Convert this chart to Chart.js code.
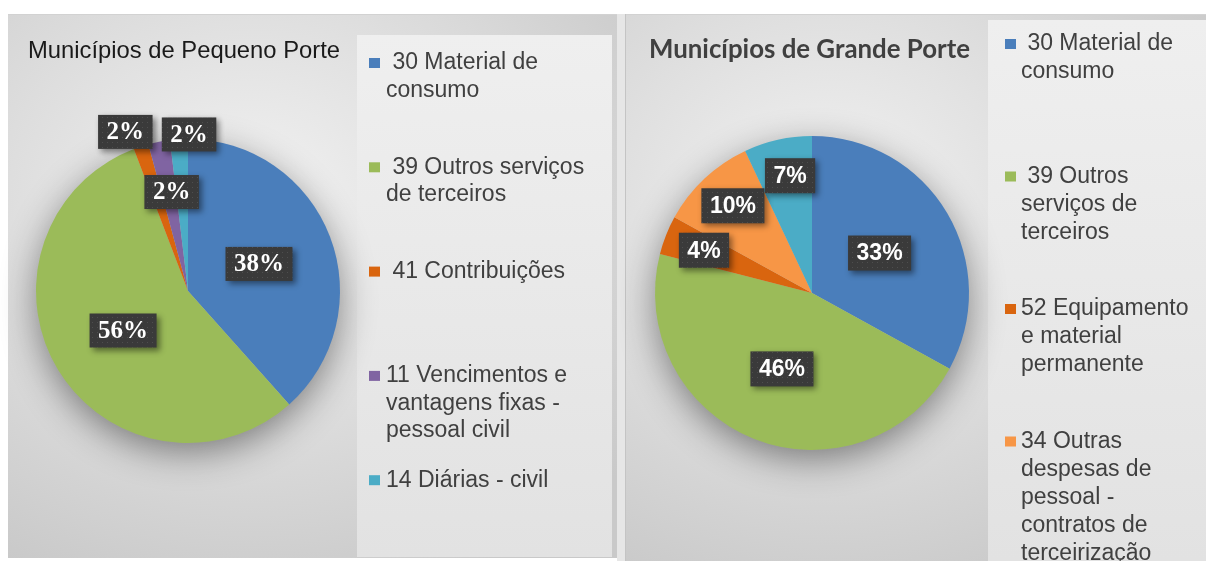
<!DOCTYPE html>
<html>
<head>
<meta charset="utf-8">
<script src="https://cdn.jsdelivr.net/npm/chart.js@4.4.1/dist/chart.umd.min.js"></script>
<style>
  html, body { margin: 0; padding: 0; background: #fff; }
  body { width: 1206px; height: 561px; position: relative; overflow: hidden; }
  .panel { position: absolute; top: 14px; border-top: 1px solid #d2d2d2; box-sizing: border-box; }
  #panel1 { left: 8px; width: 609px; height: 544px;
    background: radial-gradient(ellipse 80% 75% at 40% 35%, #f2f2f2 0%, #e0e0e0 45%, #c9c9c9 100%); }
  #legend1 { position: absolute; left: 357px; top: 35px; width: 255px; height: 522px;
    background: linear-gradient(to bottom, #efefef, #e8e8e8 55%, #e2e2e2); }
  #gap { position: absolute; left: 617px; top: 14px; width: 9px; height: 547px; background: #e6e6e6;
    border-right: 1px solid #c4c4c4; box-sizing: border-box; }
  #panel2 { left: 626px; width: 580px; height: 547px;
    background: radial-gradient(ellipse 80% 75% at 35% 35%, #f2f2f2 0%, #e0e0e0 45%, #c9c9c9 100%); }
  #legend2 { position: absolute; left: 988px; top: 20px; width: 218px; height: 541px;
    background: linear-gradient(to bottom, #efefef, #e8e8e8 55%, #e2e2e2); }
  canvas { position: absolute; top: 0; }
  #c1 { left: 0; }
  #c2 { left: 620px; }
</style>
</head>
<body>
<div class="panel" id="panel1"></div>
<div id="legend1"></div>
<div id="gap"></div>
<div class="panel" id="panel2"></div>
<div id="legend2"></div>
<canvas id="c1" width="620" height="561"></canvas>
<canvas id="c2" width="586" height="561"></canvas>
<script>
// --- data ---
const titlePequeno = 'Municípios de Pequeno Porte';
const catsPequeno = [
  [' 30 Material de', 'consumo'],
  [' 39 Outros serviços', 'de terceiros'],
  [' 41 Contribuições'],
  ['11 Vencimentos e', 'vantagens fixas -', 'pessoal civil'],
  ['14 Diárias - civil']
];
const valsPequeno = [38.4, 55.8, 1.6, 2.3, 1.9];

const titleGrande = 'Municípios de Grande Porte';
const catsGrande = [
  [' 30 Material de', 'consumo'],
  [' 39 Outros', 'serviços de', 'terceiros'],
  ['52 Equipamento', 'e material', 'permanente'],
  ['34 Outras', 'despesas de', 'pessoal -', 'contratos de', 'terceirização'],
  ['14 Diárias - civil'] // entry cut off below the picture, name guessed from the left chart
];
const valsGrande = [33, 46, 4, 10, 7];

const BLUE = '#4a7ebb', GREEN = '#9bbb59', DKORANGE = '#d9650f', PURPLE = '#8064a2',
      CYAN = '#4bacc6', LTORANGE = '#f79646';
const colorsPequeno = [BLUE, GREEN, DKORANGE, PURPLE, CYAN];
const colorsGrande = [BLUE, GREEN, DKORANGE, LTORANGE, CYAN];

// dotted texture for the label boxes
const dotCanvas = document.createElement('canvas');
dotCanvas.width = 5; dotCanvas.height = 5;
const dctx = dotCanvas.getContext('2d');
dctx.fillStyle = 'rgba(255,255,255,0.10)';
dctx.fillRect(2, 2, 1, 1);

function fitText(ctx, text, x, y, width) {
  const w = ctx.measureText(text).width;
  ctx.save();
  ctx.translate(x, y);
  ctx.scale(width / w, 1);
  ctx.fillText(text, 0, 0);
  ctx.restore();
}

const pieExtras = {
  id: 'pieExtras',
  beforeDatasetsDraw(chart) {
    const arc = chart.getDatasetMeta(0).data[0];
    const ctx = chart.ctx;
    ctx.save();
    ctx.shadowColor = 'rgba(0,0,0,0.45)';
    ctx.shadowBlur = 36;
    ctx.shadowOffsetY = 10;
    ctx.fillStyle = '#b8b8b8';
    ctx.beginPath();
    ctx.arc(arc.x, arc.y, arc.outerRadius - 1, 0, Math.PI * 2);
    ctx.fill();
    ctx.restore();
  },
  afterDatasetsDraw(chart, args, opts) {
    const ctx = chart.ctx;
    const meta = chart.getDatasetMeta(0);
    const vals = chart.data.datasets[0].data;
    const total = vals.reduce((a, b) => a + b, 0);
    const pattern = ctx.createPattern(dotCanvas, 'repeat');
    meta.data.forEach((arc, i) => {
      const p = arc.getProps(['x', 'y', 'startAngle', 'endAngle', 'outerRadius'], true);
      const mid = (p.startAngle + p.endAngle) / 2 + (opts.nudge[i] || 0) * Math.PI / 180;
      const r = p.outerRadius * opts.radius[i];
      const cx = p.x + Math.cos(mid) * r;
      const cy = p.y + Math.sin(mid) * r;
      const text = Math.round(vals[i] / total * 100) + '%';
      ctx.save();
      ctx.font = opts.font;
      const w = ctx.measureText(text).width + opts.padX * 2;
      const h = opts.boxH;
      ctx.shadowColor = 'rgba(0,0,0,0.45)';
      ctx.shadowBlur = 6;
      ctx.shadowOffsetX = 3;
      ctx.shadowOffsetY = 3;
      ctx.fillStyle = '#3a3a3a';
      ctx.fillRect(cx - w / 2, cy - h / 2, w, h);
      ctx.shadowColor = 'transparent';
      ctx.fillStyle = pattern;
      ctx.fillRect(cx - w / 2, cy - h / 2, w, h);
      ctx.fillStyle = '#ffffff';
      ctx.textAlign = 'center';
      ctx.textBaseline = 'middle';
      ctx.fillText(text, cx, cy + 1);
      ctx.restore();
    });
  },
  afterDraw(chart, args, opts) {
    const ctx = chart.ctx;
    // title
    const t = opts.title;
    ctx.save();
    ctx.font = t.font;
    ctx.fillStyle = t.color;
    ctx.textBaseline = 'alphabetic';
    fitText(ctx, t.text, t.x, t.y, t.width);
    ctx.restore();
    // legend
    const L = opts.legend;
    const colors = chart.data.datasets[0].backgroundColor;
    ctx.save();
    ctx.font = L.font;
    ctx.fillStyle = L.color;
    ctx.textBaseline = 'middle';
    chart.data.labels.forEach((lines, i) => {
      const y = L.top + i * L.gap;
      ctx.fillStyle = colors[i];
      ctx.fillRect(L.markerX, y - 5, 11, 10);
      ctx.fillStyle = L.color;
      lines.forEach((line, j) => ctx.fillText(line, L.textX, y + j * L.lineH));
    });
    ctx.restore();
  }
};

function makePie(id, cats, vals, colors, padding, extras) {
  return new Chart(document.getElementById(id), {
    type: 'pie',
    data: {
      labels: cats,
      datasets: [{ data: vals, backgroundColor: colors, borderWidth: 0 }]
    },
    options: {
      responsive: false,
      animation: false,
      layout: { padding: padding },
      plugins: {
        legend: { display: false },
        tooltip: { enabled: false },
        title: { display: false },
        pieExtras: extras
      }
    },
    plugins: [pieExtras]
  });
}

makePie('c1', catsPequeno, valsPequeno, colorsPequeno,
  { left: 36, right: 280, top: 139, bottom: 118 },
  {
    radius: [0.5, 0.5, 1.125, 0.66, 1.03],
    nudge: [0, 0, -3.5, 1.6, 3.8],
    font: 'bold 25px "Liberation Serif", "DejaVu Serif", serif',
    padX: 8.5, boxH: 34,
    title: { text: titlePequeno, font: '24px "Liberation Sans", Arial, sans-serif', color: '#1a1a1a', x: 28, y: 58, width: 312 },
    legend: { font: '23px "Liberation Sans", Arial, sans-serif', color: '#404040',
      markerX: 369, textX: 386, top: 63, gap: 104.3, lineH: 27.5 }
  });

makePie('c2', catsGrande, valsGrande, colorsGrande,
  { left: 35, right: 237, top: 136, bottom: 111 },
  {
    radius: [0.5, 0.52, 0.74, 0.75, 0.76],
    nudge: [0, 0, 0, 1, 2],
    font: 'bold 23px "Liberation Sans", Arial, sans-serif',
    padX: 8.5, boxH: 35,
    title: { text: titleGrande, font: 'bold 26px Lato, "Open Sans", sans-serif', color: '#404040', x: 29, y: 58, width: 321 },
    legend: { font: '23px "Liberation Sans", Arial, sans-serif', color: '#404040',
      markerX: 385, textX: 401, top: 44, gap: 132.5, lineH: 28 }
  });
</script>
</body>
</html>
